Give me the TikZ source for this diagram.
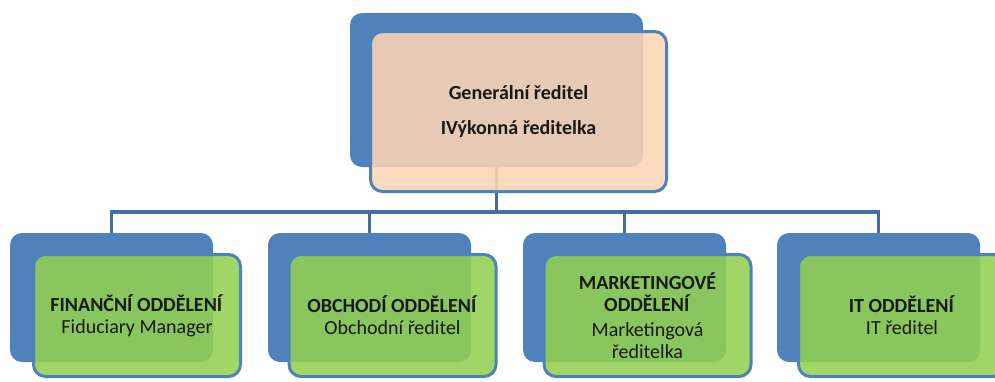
\documentclass[tikz,border=0pt]{standalone}
\usepackage{fontspec}
\setmainfont{Carlito}
\usepackage{tikz}
\usetikzlibrary{calc,positioning}
\definecolor{boxblue}{RGB}{79,129,189}
\definecolor{peach}{RGB}{251,213,181}
\definecolor{leaf}{RGB}{146,208,80}
\definecolor{ink}{RGB}{25,25,25}

\begin{document}
\begin{tikzpicture}[x=1pt,y=-1pt,
  back/.style={rectangle,rounded corners=12pt,fill=boxblue,inner sep=0pt},
  front/.style={rectangle,rounded corners=12pt,draw=boxblue,line width=3pt,
    fill opacity=0.88,text opacity=1,inner sep=0pt,align=center,text=ink,
    font=\fontsize{20}{22}\selectfont},
  conn/.style={draw=boxblue!85!black,line width=3.5pt}]
\clip (0,0) rectangle (995,381);

% back boxes
\node (b0) at (496.5,90) [back,minimum width=293,minimum height=154] {};
\node (b1) at (111.5,297.5) [back,minimum width=203,minimum height=129] {};
\node (b2) at (369.5,297.5) [back,minimum width=203,minimum height=129] {};
\node (b3) at (624.5,297.5) [back,minimum width=203,minimum height=129] {};
\node (b4) at (878.5,297.5) [back,minimum width=203,minimum height=129] {};

% connectors
\draw[conn] (b0.south) -- ++(0,45) -| (b1.north);
\draw[conn] (b0.south) -- ++(0,45) -| (b2.north);
\draw[conn] (b0.south) -- ++(0,45) -| (b3.north);
\draw[conn] (b0.south) -- ++(0,45) -| (b4.north);

% front boxes
\node (f0) at (518.5,111.5) [front,fill=peach,minimum width=296,minimum height=160]
  {\textbf{Generální ředitel}\\[13pt]\textbf{IVýkonná ředitelka}};
\node (f1) at (137,315.5) [front,fill=leaf,minimum width=207,minimum height=122]
  {\textbf{FINANČNÍ ODDĚLENÍ}\\Fiduciary Manager};
\node (f2) at (392.5,315.5) [front,fill=leaf,minimum width=207,minimum height=122]
  {\textbf{OBCHODÍ ODDĚLENÍ}\\Obchodní ředitel};
\node (f3) at (647.5,315.5) [front,fill=leaf,minimum width=207,minimum height=122]
  {\textbf{MARKETINGOVÉ}\\\textbf{ODDĚLENÍ}\\[3pt]Marketingová\\ředitelka};
\node (f4) at (902,315.5) [front,fill=leaf,minimum width=207,minimum height=122]
  {\textbf{IT ODDĚLENÍ}\\IT ředitel};
\end{tikzpicture}
\end{document}
